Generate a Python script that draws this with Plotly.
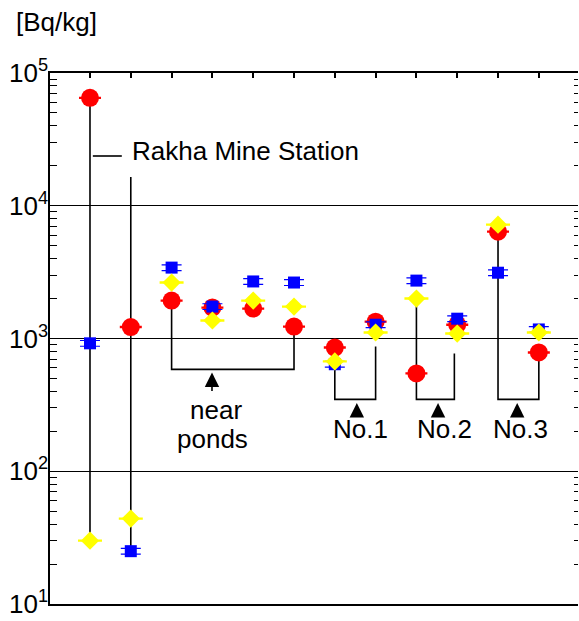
import math
import plotly.graph_objects as go

# ---------------- data ----------------
categories = list(range(1, 13))
red_vals = [65000, 1220, 1930, 1710, 1680, 1230, 855, 1340, 546, 1270, 6380, 785]
blue_vals = [920, 25, 3420, 1740, 2690, 2640, 640, 1270, 2730, 1410, 3130, 1170]
yellow_vals = [30, 44, 2640, 1366, 1930, 1740, 672, 1110, 2000, 1090, 7200, 1110]

group_labels = ["near", "ponds", "No.1", "No.2", "No.3"]
station_label = "Rakha Mine Station"
unit_label = "[Bq/kg]"
decades = [10, 100, 1000, 10000, 100000]
decade_text = ["10<sup>1</sup>", "10<sup>2</sup>", "10<sup>3</sup>", "10<sup>4</sup>", "10<sup>5</sup>"]

FONT = "Liberation Sans, Arial, Helvetica, sans-serif"
LW = 1.6
FS = 26

fig = go.Figure()

# ---- connecting lines (drawn below markers) ----
lx, ly = [], []
lx += [1, 1, None]; ly += [red_vals[0], yellow_vals[0], None]
lx += [2, 2, None]; ly += [16500, blue_vals[1], None]
lx += [1.07, 1.78, None]; ly += [23700, 23700, None]
brackets = [
    (3, 6, red_vals[2], red_vals[5], 585),
    (7, 8, blue_vals[6], 870, 348),
    (9, 9.93, yellow_vals[8], 770, 348),
    (11, 12, red_vals[10], red_vals[11], 348),
]
for a, b, ta, tb, bot in brackets:
    lx += [a, a, b, b, None]
    ly += [ta, bot, bot, tb, None]
fig.add_trace(go.Scatter(x=lx, y=ly, mode="lines", line=dict(color="black", width=LW),
                         hoverinfo="skip", showlegend=False))

# ---- markers ----
fig.add_trace(go.Scatter(x=categories, y=red_vals, mode="markers",
                         marker=dict(symbol="circle", size=18, color="#ff0000", line=dict(width=0)),
                         error_y=dict(type="percent", value=1.0, width=11, thickness=1.2, color="#ff0000"),
                         showlegend=False))
fig.add_trace(go.Scatter(x=categories, y=blue_vals, mode="markers",
                         marker=dict(symbol="square", size=12, color="#0000ff", line=dict(width=0)),
                         error_y=dict(type="percent", value=5, width=10, thickness=1.2, color="#0000ff"),
                         showlegend=False))
fig.add_trace(go.Scatter(x=categories, y=yellow_vals, mode="markers",
                         marker=dict(symbol="diamond", size=14, color="#ffff00", line=dict(width=0)),
                         error_y=dict(type="percent", value=1.0, width=12, thickness=1.2, color="#ffff00"),
                         showlegend=False))

fig.add_trace(go.Scatter(x=[1], y=[1000], xaxis="x2", yaxis="y2", mode="markers",
                         marker=dict(opacity=0), hoverinfo="skip", showlegend=False))

minor_vals = [m * d for d in [10, 100, 1000, 10000] for m in range(2, 10)]

fig.update_layout(
    width=579, height=621,
    margin=dict(l=50, r=1, t=73, b=17, autoexpand=False),
    paper_bgcolor="white", plot_bgcolor="white",
    font=dict(family=FONT, size=FS, color="black"),
    xaxis=dict(range=[0.02, 12.96], showticklabels=False, ticks="", showgrid=False, automargin=False,
               zeroline=False, showline=True, linecolor="black", linewidth=2.2),
    xaxis2=dict(range=[0.02, 12.96], overlaying="x", side="top", showticklabels=False, automargin=False,
                tickvals=categories, ticks="inside", ticklen=5, tickwidth=1.5, tickcolor="black",
                showgrid=False, zeroline=False, showline=True, linecolor="black", linewidth=2.2),
    yaxis=dict(type="log", range=[1, 5], tickvals=decades, ticktext=decade_text, automargin=False,
               ticks="", showgrid=True, gridcolor="black", gridwidth=1.4,
               showline=True, linecolor="black", linewidth=1.6, zeroline=False,
               tickfont=dict(size=FS), ticklabelstandoff=-5,
               minor=dict(tickvals=minor_vals, ticks="inside", ticklen=7, tickwidth=1.3,
                          tickcolor="black", showgrid=False)),
    yaxis2=dict(type="log", range=[1, 5], overlaying="y", side="right", showticklabels=False,
                automargin=False,
                tickvals=decades, ticks="inside", ticklen=4, tickwidth=1.3, tickcolor="black",
                showgrid=False, showline=False, zeroline=False,
                minor=dict(tickvals=minor_vals, ticks="inside", ticklen=4, tickwidth=1.3,
                           tickcolor="black", showgrid=False)),
)

ann = []
ann.append(dict(text=unit_label, xref="paper", yref="paper", x=-0.068, y=1.096,
                xanchor="left", yanchor="middle", showarrow=False, font=dict(size=FS)))
ann.append(dict(text=station_label, x=1.98, y=4.415, xanchor="left", yanchor="middle",
                showarrow=False, font=dict(size=FS)))
ann.append(dict(text=group_labels[0], x=4.08, y=2.465, showarrow=False, font=dict(size=FS)))
ann.append(dict(text=group_labels[1], x=4.0, y=2.245, showarrow=False, font=dict(size=FS)))
for t, xc in zip(group_labels[2:], [7.64, 9.70, 11.56]):
    ann.append(dict(text=t, x=xc, y=2.318, showarrow=False, font=dict(size=FS)))
for xa, ya, ay in [(3.99, 2.744, 20), (7.54, 2.514, 13), (9.53, 2.514, 13), (11.47, 2.514, 13)]:
    ann.append(dict(text="", x=xa, y=ya, ax=0, ay=ay, showarrow=True, arrowhead=2,
                    arrowsize=1.8, arrowwidth=1.6, arrowcolor="black", standoff=0))
fig.update_layout(annotations=ann)

fig.write_html("out.html", config={"displayModeBar": False},
               post_script="document.body.style.margin='0px';")
